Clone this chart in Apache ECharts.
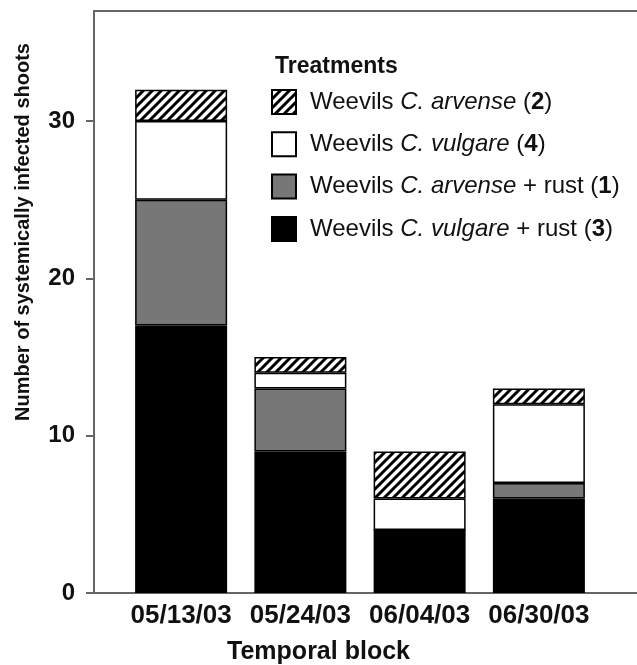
<!DOCTYPE html>
<html>
<head>
<meta charset="utf-8">
<script src="https://cdn.jsdelivr.net/npm/echarts@6/dist/echarts.min.js"></script>
<style>html,body{margin:0;padding:0;background:#fff;}#c{width:637px;height:665px;}</style>
</head>
<body>
<div id="c"></div>
<script>
var categories = ['05/13/03', '05/24/03', '06/04/03', '06/30/03'];
var vulgareRust = [17, 9, 4, 6];   // black (3)
var arvenseRust = [8, 4, 0, 1];    // gray (1)
var vulgare = [5, 1, 2, 5];        // white (4)
var arvense = [2, 1, 3, 1];        // hatched (2)
var yTicks = [0, 10, 20, 30];

var names = {
  h: 'Weevils C. arvense (2)',
  w: 'Weevils C. vulgare (4)',
  g: 'Weevils C. arvense + rust (1)',
  k: 'Weevils C. vulgare + rust (3)'
};
var rich = {
  r: {fontSize: 24, fontFamily: 'Liberation Sans', color: '#111'},
  i: {fontSize: 24, fontFamily: 'Liberation Sans', fontStyle: 'italic', color: '#111'},
  b: {fontSize: 24, fontFamily: 'Liberation Sans', fontWeight: 'bold', color: '#111'}
};
function fmt(n) {
  if (n === names.h) return '{r|Weevils }{i|C. arvense}{r| (}{b|2}{r|)}';
  if (n === names.w) return '{r|Weevils }{i|C. vulgare}{r| (}{b|4}{r|)}';
  if (n === names.g) return '{r|Weevils }{i|C. arvense}{r| + rust (}{b|1}{r|)}';
  return '{r|Weevils }{i|C. vulgare}{r| + rust (}{b|3}{r|)}';
}

var pc = document.createElement('canvas');
pc.width = 9; pc.height = 9;
var ctx = pc.getContext('2d');
ctx.fillStyle = '#fff'; ctx.fillRect(0, 0, 9, 9);
ctx.strokeStyle = '#000'; ctx.lineWidth = 3;
ctx.beginPath();
ctx.moveTo(-1, 10); ctx.lineTo(10, -1);
ctx.moveTo(-2, 2); ctx.lineTo(2, -2);
ctx.moveTo(7, 11); ctx.lineTo(11, 7);
ctx.stroke();
var hatch = {image: pc, repeat: 'repeat'};

var chart = echarts.init(document.getElementById('c'), null, {renderer: 'canvas'});
var axisCol = '#666';
function bar(name, data, color) {
  return {
    name: name, type: 'bar', stack: 's', data: data,
    xAxisIndex: 2, yAxisIndex: 1, barWidth: 92,
    itemStyle: {color: color, borderColor: '#000', borderWidth: 1.5},
    emphasis: {disabled: true}
  };
}
chart.setOption({
  animation: false,
  grid: [
    {left: 94, right: 0, top: 11, bottom: 72},
    {left: 121.5, right: 38.5, top: 11, bottom: 72}
  ],
  xAxis: [
    {type: 'value', gridIndex: 0, min: 0, max: 1, position: 'bottom',
     axisLine: {show: true, lineStyle: {color: axisCol, width: 2}},
     axisTick: {show: false}, axisLabel: {show: false}, splitLine: {show: false}},
    {type: 'value', gridIndex: 0, min: 0, max: 1, position: 'top',
     axisLine: {show: true, lineStyle: {color: axisCol, width: 2}},
     axisTick: {show: false}, axisLabel: {show: false}, splitLine: {show: false}},
    {type: 'category', gridIndex: 1, data: categories,
     axisLine: {show: false}, axisTick: {show: false},
     axisLabel: {interval: 0, hideOverlap: false, margin: 10, fontSize: 26, fontWeight: 'bold', fontFamily: 'Liberation Sans', color: '#111'}}
  ],
  yAxis: [
    {type: 'value', gridIndex: 0, min: 0, max: 37,
     axisLine: {show: true, lineStyle: {color: axisCol, width: 2}},
     axisTick: {show: true, length: 8, customValues: yTicks, lineStyle: {color: axisCol, width: 2}},
     axisLabel: {customValues: yTicks, margin: 19, fontSize: 24, fontWeight: 'bold', fontFamily: 'Liberation Sans', color: '#111'},
     splitLine: {show: false}},
    {type: 'value', gridIndex: 1, min: 0, max: 37, show: false}
  ],
  legend: {
    orient: 'vertical', left: 266, top: 84,
    icon: 'rect',
    itemWidth: 24, itemHeight: 24, itemGap: 16.3,
    data: [names.h, names.w, names.g, names.k],
    formatter: fmt,
    textStyle: {rich: rich, padding: [0, 0, 0, 9]},
    selectedMode: false
  },
  graphic: [
    {type: 'text', left: 275, top: 55,
     style: {text: 'Treatments', font: 'bold 23px "Liberation Sans"', fill: '#111'}},
    {type: 'text', x: 23, y: 232, rotation: Math.PI / 2,
     style: {text: 'Number of systemically infected shoots', font: 'bold 20px "Liberation Sans"', fill: '#111', align: 'center', verticalAlign: 'middle'}},
    {type: 'text', left: 'center', top: 640,
     style: {text: 'Temporal block', font: 'bold 25px "Liberation Sans"', fill: '#111'}}
  ],
  series: [
    bar(names.k, vulgareRust, '#000'),
    bar(names.g, arvenseRust, '#777'),
    bar(names.w, vulgare, '#fff'),
    bar(names.h, arvense, hatch)
  ]
});
</script>
</body>
</html>
